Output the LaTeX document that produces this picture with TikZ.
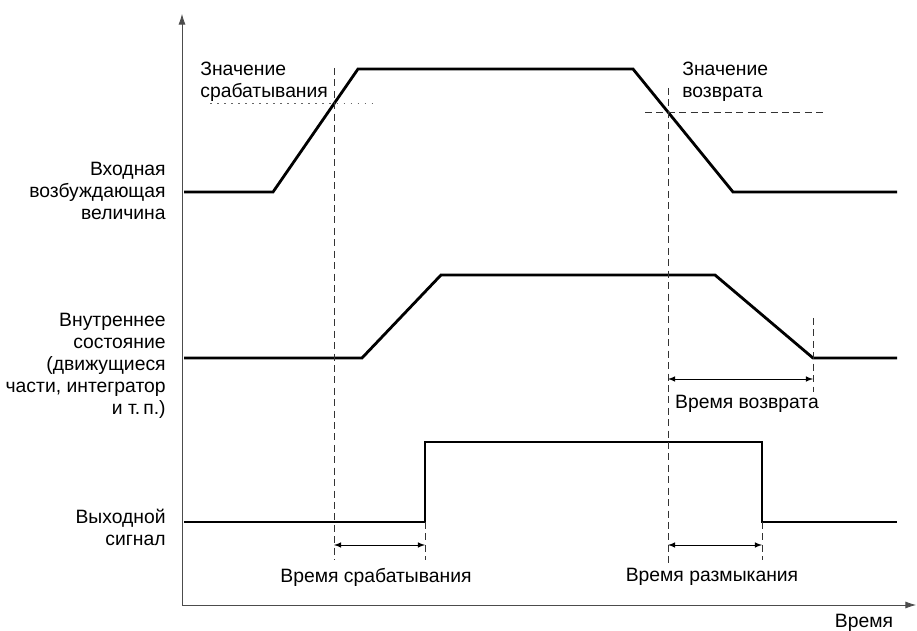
\documentclass[tikz,border=0pt]{standalone}
\usepackage{fontspec}
\setmainfont{Liberation Sans}
\usetikzlibrary{arrows,arrows.meta,positioning}
\tikzset{
    signal/.style={line width=1.6pt, black, line join=miter},
    axis/.style={thin, black!70, -{Latex[length=6pt,width=4pt]}},
    guide/.style={thin, black!80, dash pattern=on 4pt off 2.5pt},
    level mark/.style={thin, black!60, dash pattern=on 1pt off 3pt},
    span/.style={thin, black, latex-latex},
    lbl/.style={font=\fontsize{11}{12.6}\selectfont, inner sep=0pt},
    side lbl/.style={lbl, anchor=east, align=right},
    note lbl/.style={lbl, anchor=north west, align=left}
}

\begin{document}
\begin{tikzpicture}[x=0.02cm, y=-0.02cm]
	\useasboundingbox (0,0) rectangle (917,631);
	% axes
	\coordinate (origin) at (182,605);
	\coordinate (ytop) at (182,14);
	\coordinate (xend) at (916,605);
	\draw[axis] (origin) -- (ytop);
	\draw[axis] (origin) -- (xend);
	\node[lbl] (tlbl) at (864,623) {Время};
	% input quantity
	\coordinate (i0) at (184,192);
	\coordinate (i1) at (273,192);
	\coordinate (i2) at (358,69);
	\coordinate (i3) at (633,69);
	\coordinate (i4) at (733,192);
	\coordinate (i5) at (897,192);
	\draw[signal] (i0) -- (i1) -- (i2) -- (i3) -- (i4) -- (i5);
	% internal state
	\coordinate (s0) at (184,358);
	\coordinate (s1) at (362,358);
	\coordinate (s2) at (441,275);
	\coordinate (s3) at (715,275);
	\coordinate (s4) at (813,358);
	\coordinate (s5) at (897,358);
	\draw[signal] (s0) -- (s1) -- (s2) -- (s3) -- (s4) -- (s5);
	% output signal
	\coordinate (o0) at (184,522);
	\coordinate (o1) at (425,522);
	\coordinate (o2) at (425,442);
	\coordinate (o3) at (762,442);
	\coordinate (o4) at (762,522);
	\coordinate (o5) at (897,522);
	\draw[signal] (o0) -- (o1) -- (o2) -- (o3) -- (o4) -- (o5);
	% levels
	\coordinate (opA) at (210,103);
	\coordinate (opB) at (372,103);
	\draw[level mark] (opA) -- (opB);
	\coordinate (rvA) at (645,112);
	\coordinate (rvB) at (827,112);
	\draw[guide] (rvA) -- (rvB);
	% guide lines
	\coordinate (gA) at (334,68);
	\coordinate (gAb) at (334,560);
	\draw[guide] (gA) -- (gAb);
	\coordinate (gB) at (668,88);
	\coordinate (gBb) at (668,563);
	\draw[guide] (gB) -- (gBb);
	\coordinate (gC) at (813,318);
	\coordinate (gCb) at (813,392);
	\draw[guide] (gC) -- (gCb);
	\coordinate (gDb) at (425,560);
	\draw[guide] (o1) -- (gDb);
	\coordinate (gEb) at (762,560);
	\draw[guide] (o4) -- (gEb);
	% spans
	\coordinate (opL) at (334,545);
	\coordinate (opR) at (425,545);
	\draw[span] (opL) -- (opR);
	\coordinate (brL) at (668,545);
	\coordinate (brR) at (762,545);
	\draw[span] (brL) -- (brR);
	\coordinate (rtL) at (668,379);
	\coordinate (rtR) at (813,379);
	\draw[span] (rtL) -- (rtR);
	\node[lbl] (oplbl) at (376,577) {Время срабатывания};
	\node[lbl] (brlbl) at (712,577) {Время размыкания};
	\node[lbl] (rtlbl) at (747,404) {Время возврата};
	% names
	\node[side lbl] (inname) at (166,191) {Входная\\возбуждающая\\величина};
	\node[side lbl] (stname) at (166,366) {Внутреннее\\состояние\\(движущиеся\\части, интегратор\\и т.\,п.)};
	\node[side lbl] (outname) at (166,527) {Выходной\\сигнал};
	\node[note lbl] (opname) at (200,62) {Значение\\срабатывания};
	\node[note lbl] (rvname) at (682,62) {Значение\\возврата};
\end{tikzpicture}
\end{document}
